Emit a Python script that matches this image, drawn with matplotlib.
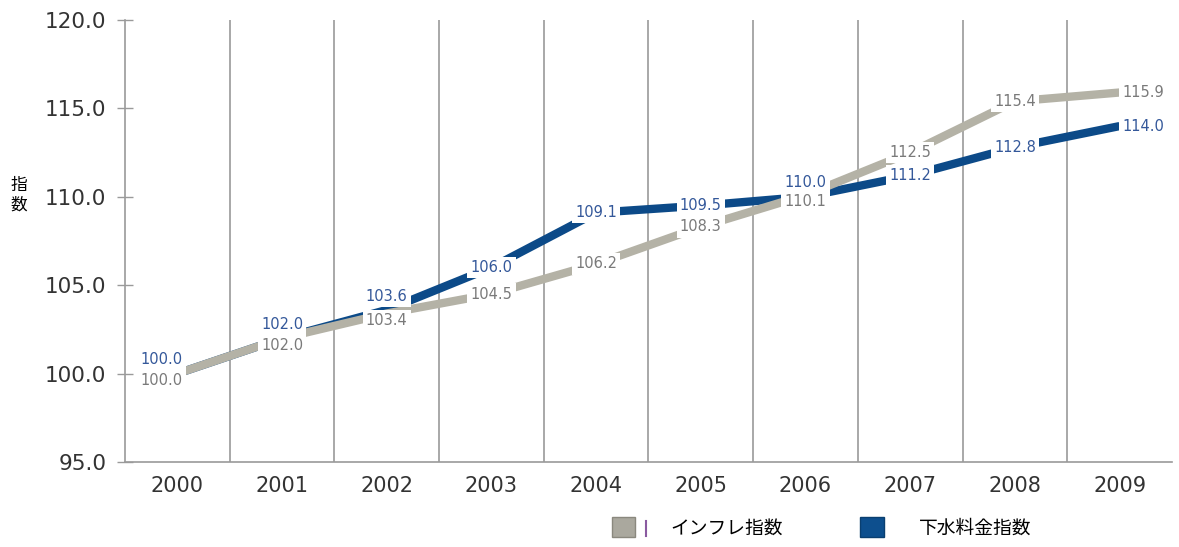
import matplotlib
matplotlib.use("Agg")
import matplotlib.pyplot as plt
from matplotlib.patches import Patch
from matplotlib.lines import Line2D

years = ["2000", "2001", "2002", "2003", "2004", "2005", "2006", "2007", "2008", "2009"]
inflation_index = [100.0, 102.0, 103.4, 104.5, 106.2, 108.3, 110.1, 112.5, 115.4, 115.9]
sewer_index = [100.0, 102.0, 103.6, 106.0, 109.1, 109.5, 110.0, 111.2, 112.8, 114.0]
y_ticks = [95.0, 100.0, 105.0, 110.0, 115.0, 120.0]
legend_labels = ["インフレ指数", "下水料金指数"]
y_label = "指数"

num_font = "DejaVu Sans"
cjk = ["Noto Sans CJK JP", "DejaVu Sans"]

GRAY = "#b4b2a6"
BLUE = "#0c4a88"
GRAY_TXT = "#7a7a7a"
BLUE_TXT = "#34589a"
AXIS = "#9a9a9a"

fig = plt.figure(figsize=(11.79, 5.47), dpi=100)
ax = fig.add_axes([0.106, 0.1554, 0.888, 0.808])

x = list(range(len(years)))
ax.plot(x, sewer_index, color=BLUE, lw=6, solid_capstyle="butt", zorder=3)
ax.plot(x, inflation_index, color=GRAY, lw=6, solid_capstyle="butt", zorder=4)

# value labels sit on the points; white boxes open gaps in the lines
last = len(years) - 1
box = dict(boxstyle="square,pad=0.22", fc="white", ec="none")
for i in x:
    g, b = inflation_index[i], sewer_index[i]
    close = abs(b - g) < 1.0
    if i == 0:
        ha, dx = "right", 4
    elif i == last:
        ha, dx = "left", 2
    else:
        ha, dx = "center", 0
    ax.annotate(f"{g:.1f}", (i, g), xytext=(dx, -5 if close else 0), textcoords="offset points",
                ha=ha, va="center", fontsize=10.5, color=GRAY_TXT, family=num_font,
                bbox=box, zorder=5)
    ax.annotate(f"{b:.1f}", (i, b), xytext=(dx, 10 if close else 0), textcoords="offset points",
                ha=ha, va="center", fontsize=10.5, color=BLUE_TXT, family=num_font,
                bbox=box, zorder=6)

ax.set_xlim(-0.5, len(years) - 0.5)
ax.set_ylim(95, 120)
ax.set_yticks(y_ticks)
ax.set_yticklabels([f"{t:.1f}" for t in y_ticks], family=num_font, fontsize=15.5, color="#333333")
ax.set_xticks(x)
ax.set_xticklabels(years, family=num_font, fontsize=15, color="#333333")

# category dividers
for k in range(1, len(years)):
    ax.axvline(k - 0.5, color=AXIS, lw=1.2, zorder=1)

for side in ("top", "right"):
    ax.spines[side].set_visible(False)
for side in ("left", "bottom"):
    ax.spines[side].set_color(AXIS)
    ax.spines[side].set_linewidth(1.2)
ax.tick_params(axis="y", direction="inout", length=11, color=AXIS, width=1, pad=8)
ax.tick_params(axis="x", length=0, pad=10)

fig.text(0.016, 0.643, "指\n数", family=cjk, fontsize=12, ha="center", va="center", linespacing=1.15)

handles = [Patch(facecolor="#aaa89e", edgecolor="#8a887e", label=legend_labels[0]),
           Patch(facecolor="#0d4f8e", edgecolor="#0a3f70", label=legend_labels[1])]
fig.legend(handles=handles, loc="center", bbox_to_anchor=(0.697, 0.035), ncol=2, frameon=False,
           prop={"family": cjk, "size": 13.5}, handlelength=1.25, handleheight=1.25,
           columnspacing=4.1, handletextpad=1.9, borderpad=0)
fig.add_artist(Line2D([0.548, 0.548], [0.020, 0.048], transform=fig.transFigure,
                      color="#8a5aa0", lw=1.5))

fig.savefig("out.png", dpi=100)
